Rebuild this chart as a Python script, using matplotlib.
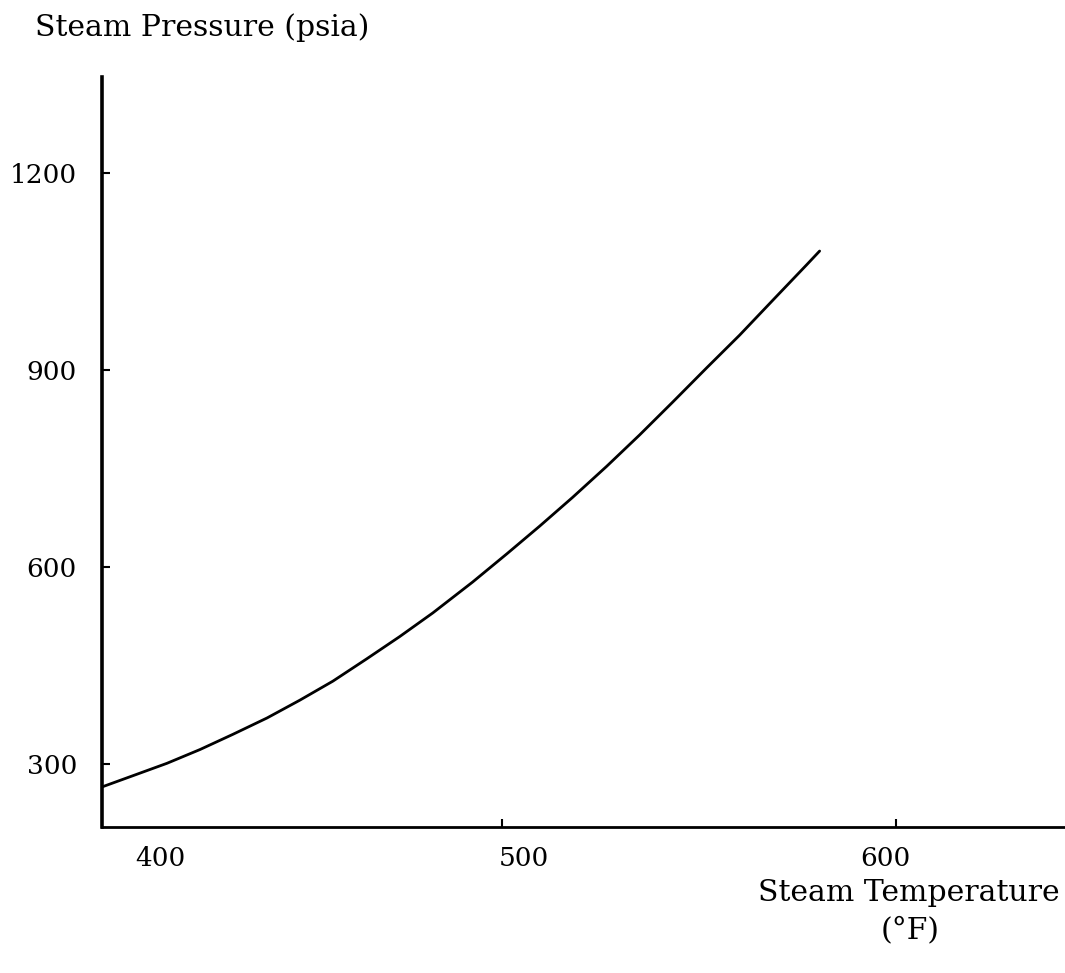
import matplotlib.pyplot as plt
from matplotlib.transforms import ScaledTranslation

# saturation curve
temp_f = [398.5, 406.3, 415.0, 423.4, 431.7, 440.4, 448.7, 457.1, 465.7, 474.1,
          482.5, 492.6, 501.3, 509.6, 518.0, 526.6, 535.0, 543.4, 552.0, 560.4,
          568.8, 577.4, 580.7]
press_psia = [265, 282, 301, 322, 345, 370, 397, 426, 460, 494,
              530, 577, 620, 662, 706, 753, 801, 851, 903, 953,
              1006, 1060, 1081]

x_ticks = [400, 500, 600]
x_labels = ['400', '500', '600']
y_ticks = [300, 600, 900, 1200]
y_labels = ['300', '600', '900', '1200']

plt.rcParams['font.family'] = ['DejaVu Serif']

fig = plt.figure(figsize=(10.65, 9.73), dpi=100)
ax = fig.add_axes([102 / 1065, 146 / 973, 963 / 1065, 750 / 973])

ax.plot(temp_f, press_psia, color='black', lw=2.0, solid_capstyle='round')

ax.set_xlim(398.5, 643)
ax.set_ylim(204, 1346)

for side in ['top', 'right']:
    ax.spines[side].set_visible(False)
ax.spines['left'].set_linewidth(2.6)
ax.spines['bottom'].set_linewidth(2.0)

ax.set_xticks(x_ticks)
ax.set_xticklabels(x_labels)
ax.set_yticks(y_ticks)
ax.set_yticklabels(y_labels)
ax.tick_params(axis='x', direction='in', length=6, width=1.5, pad=14, labelsize=19)
ax.tick_params(axis='y', direction='in', length=6, width=1.5, pad=18, labelsize=19)
ax.xaxis.get_major_ticks()[0].tick1line.set_visible(False)

# typed labels sit a bit off their tick marks
x_shift = [52, 22, -10]
for lbl, dx in zip(ax.get_xticklabels(), x_shift):
    lbl.set_transform(lbl.get_transform() + ScaledTranslation(dx / 100, 0, fig.dpi_scale_trans))

fig.text(35 / 1065, 1 - 28 / 973, 'Steam Pressure (psia)', fontsize=21.5, va='center', ha='left')
fig.text(1060 / 1065, 1 - 893 / 973, 'Steam Temperature', fontsize=21.5, va='center', ha='right')
fig.text(910 / 1065, 1 - 930 / 973, '(°F)', fontsize=21.5, va='center', ha='center')

plt.savefig('out.png', dpi=100)
